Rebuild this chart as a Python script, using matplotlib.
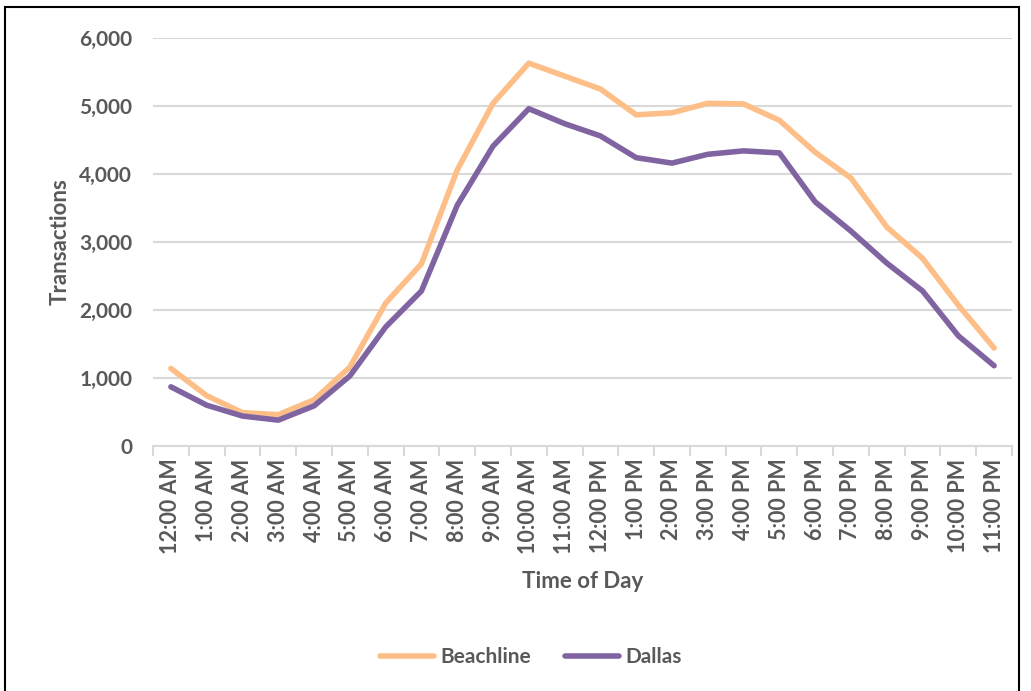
import matplotlib.pyplot as plt
from matplotlib.patches import Rectangle
from matplotlib.ticker import FuncFormatter, FixedLocator

plt.rcParams['font.family'] = ['Lato', 'DejaVu Sans']

hours = ['12:00 AM', '1:00 AM', '2:00 AM', '3:00 AM', '4:00 AM', '5:00 AM',
         '6:00 AM', '7:00 AM', '8:00 AM', '9:00 AM', '10:00 AM', '11:00 AM',
         '12:00 PM', '1:00 PM', '2:00 PM', '3:00 PM', '4:00 PM', '5:00 PM',
         '6:00 PM', '7:00 PM', '8:00 PM', '9:00 PM', '10:00 PM', '11:00 PM']
beachline = [1140, 740, 490, 460, 680, 1160, 2100, 2680, 4060, 5040, 5630, 5440,
             5250, 4870, 4900, 5040, 5030, 4790, 4320, 3940, 3220, 2760, 2070, 1440]
dallas = [870, 600, 440, 380, 590, 1030, 1750, 2280, 3540, 4410, 4960, 4740,
          4560, 4240, 4160, 4290, 4340, 4310, 3590, 3160, 2690, 2280, 1620, 1180]

text_color = '#595959'
grid_color = '#d9d9d9'

fig = plt.figure(figsize=(10.31, 6.91), dpi=100)
fig.patches.append(Rectangle((0.005, -0.01), 0.983, 1.0, transform=fig.transFigure,
                             fill=False, edgecolor='black', linewidth=1.5))

ax = fig.add_axes([0.1484, 0.3546, 0.8332, 0.5904])
x = range(len(hours))
ax.plot(x, beachline, color='#fdbf87', linewidth=4, solid_capstyle='round', label='Beachline', zorder=3)
ax.plot(x, dallas, color='#8064a2', linewidth=4, solid_capstyle='round', label='Dallas', zorder=3)

ax.set_xlim(-0.5, len(hours) - 0.5)
ax.set_ylim(0, 6000)
ax.set_yticks(range(0, 6001, 1000))
ax.yaxis.set_major_formatter(FuncFormatter(lambda v, p: f'{int(v):,}'))
ax.grid(axis='y', color=grid_color, linewidth=1.5)
ax.set_axisbelow(True)

ax.set_xticks(list(x))
ax.set_xticklabels(hours, rotation=90)
ax.xaxis.set_minor_locator(FixedLocator([i - 0.5 for i in range(len(hours) + 1)]))
ax.tick_params(axis='x', which='major', length=0, pad=9, labelsize=15.5, labelcolor=text_color)
ax.tick_params(axis='x', which='minor', length=7, width=1.5, color=grid_color)
ax.tick_params(axis='y', length=0, pad=15, labelsize=15, labelcolor=text_color)
for lbl in ax.get_xticklabels() + ax.get_yticklabels():
    lbl.set_fontweight('bold')

for side in ['top', 'right', 'left']:
    ax.spines[side].set_visible(False)
ax.spines['bottom'].set_color(grid_color)
ax.spines['bottom'].set_linewidth(1.5)

ax.set_ylabel('Transactions', fontsize=16, color=text_color, fontweight='bold', labelpad=6)
ax.set_xlabel('Time of Day', fontsize=16, color=text_color, fontweight='bold', labelpad=12)

leg = fig.legend(loc='center', bbox_to_anchor=(0.515, 0.049), ncol=2, frameon=False,
                 handlelength=2.6, handletextpad=0.3, columnspacing=1.6,
                 prop={'size': 15, 'weight': 'bold'})
for t in leg.get_texts():
    t.set_color(text_color)

fig.savefig('out.png', dpi=100)
